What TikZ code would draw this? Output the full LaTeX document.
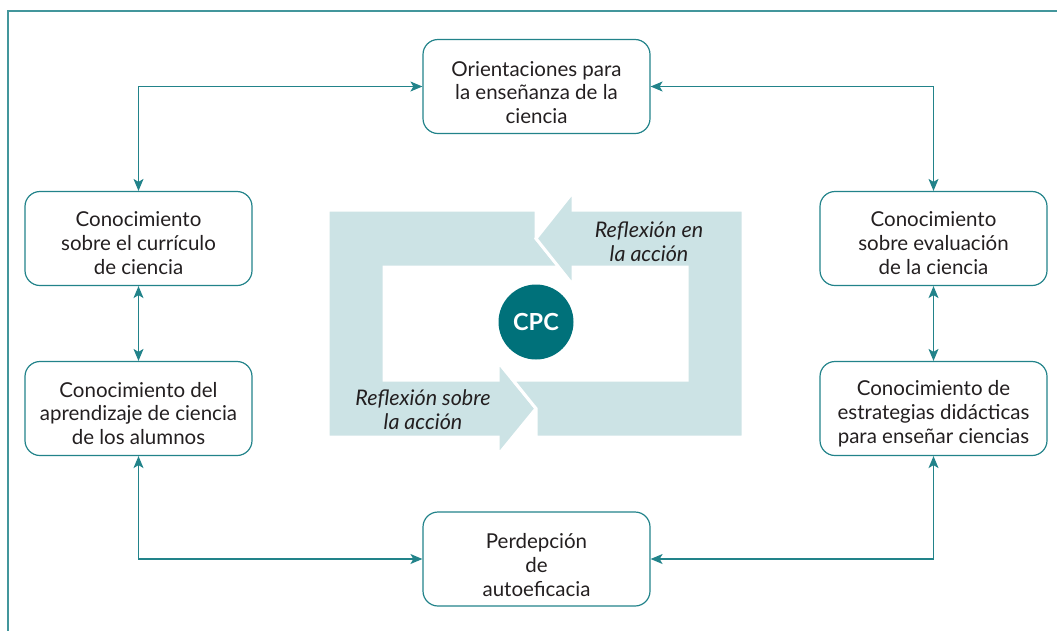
\documentclass[tikz,border=0pt]{standalone}
\usepackage{fontspec}
\setmainfont{Lato}
\usetikzlibrary{arrows.meta}
\definecolor{teal}{HTML}{22838A}
\definecolor{cpcc}{HTML}{00717A}
\definecolor{pale}{HTML}{CCE3E5}
\definecolor{txt}{HTML}{231F20}
\begin{document}
\begin{tikzpicture}[x=1pt,y=-1pt,
  box/.style={draw=teal,line width=1.2pt,rounded corners=15pt,minimum width=227pt,minimum height=94pt,inner sep=0pt},
  btxt/.style={align=center,text=txt,font=\fontsize{20.5}{23.7}\selectfont,inner sep=0pt},
  dbl/.style={draw=teal,line width=1.2pt,{Stealth[length=12pt,width=10pt,inset=3pt]}-{Stealth[length=12pt,width=10pt,inset=3pt]}},
  frame/.style={draw=teal!85,line width=1.5pt},
  band/.style={fill=pale,draw=white,line width=3pt,line join=miter},
  lbl/.style={align=center,text=txt,font=\itshape\fontsize{21.5}{24}\selectfont,inner sep=0pt}]
\useasboundingbox (0,0) rectangle (1057,630);
\draw[frame] (8,631) -- (8,11) -- (1058,11);
% central cycle
\path[band] (536,210) -- (328,210) -- (328,437) -- (498,437) -- (498,455) -- (536,408.5) -- (498,362) -- (498,380) -- (384,380) -- (384,267) -- (559,267) -- (536,238.5) -- cycle;
\path[band] (536,238.5) -- (573,192) -- (573,210) -- (743,210) -- (743,437) -- (536,437) -- (536,408.5) -- (513,380) -- (687,380) -- (687,267) -- (573,267) -- (573,285) -- cycle;
\node[lbl] (rsa) at (423,410) {Reflexión sobre\\la acción};
\node[lbl] (rea) at (649,242) {Reflexión en\\la acción};
\node[circle,fill=cpcc,minimum size=75pt,inner sep=0pt,text=white,font=\bfseries\fontsize{23.5}{23.5}\selectfont] (cpc) at (536,322) {CPC};
% boxes
\node[box] (top) at (536.5,86.5) {};
\node[box] (l1) at (138.5,238.5) {};
\node[box] (l2) at (138.5,408.5) {};
\node[box] (r1) at (933.5,238.5) {};
\node[box] (r2) at (933.5,408.5) {};
\node[box] (bot) at (536.5,559) {};
\node[btxt] (topt) at ([yshift=-6pt]top.center) {Orientaciones para\\la enseñanza de la\\ciencia};
\node[btxt] (l1t) at ([yshift=-4.5pt]l1.center) {Conocimiento\\sobre el currículo\\de ciencia};
\node[btxt] (l2t) at ([yshift=-5pt]l2.center) {Conocimiento del\\aprendizaje de ciencia\\de los alumnos};
\node[btxt] (r1t) at ([yshift=-4.5pt]r1.center) {Conocimiento\\sobre evaluación\\de la ciencia};
\node[btxt] (r2t) at ([yshift=-5pt]r2.center) {Conocimiento de\\estrategias didácticas\\para enseñar ciencias};
\node[btxt] (bott) at ([yshift=-6pt]bot.center) {Perdepción\\de\\autoeficacia};
% connectors
\draw[dbl] (l1.north) |- (top.west);
\draw[dbl] (r1.north) |- (top.east);
\draw[dbl] (l1.south) -- (l2.north);
\draw[dbl] (r1.south) -- (r2.north);
\draw[dbl] (l2.south) |- (bot.west);
\draw[dbl] (r2.south) |- (bot.east);
\end{tikzpicture}
\end{document}
